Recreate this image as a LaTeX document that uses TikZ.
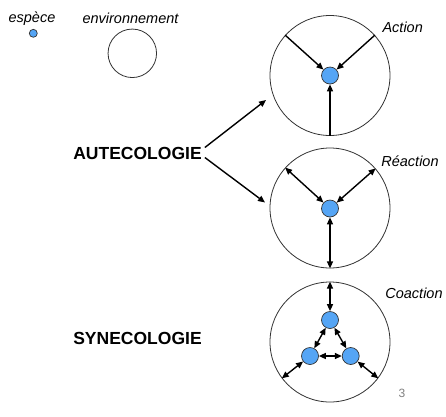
\documentclass[tikz,border=0pt]{standalone}
\usepackage{fontspec}
\setmainfont{Liberation Sans}
\usetikzlibrary{arrows.meta}
\definecolor{spfill}{RGB}{85,165,245}
\definecolor{ringcol}{RGB}{50,50,50}
\begin{document}
\begin{tikzpicture}[x=1pt,y=-1pt,
  env/.style={circle,draw=ringcol,line width=0.8pt,inner sep=0pt,minimum size=120pt},
  sp/.style={circle,draw=ringcol,fill=spfill,line width=0.7pt,inner sep=0pt,minimum size=17pt},
  lab/.style={font=\itshape\fontsize{14.5}{16}\selectfont,inner sep=0pt},
  big/.style={font=\bfseries\fontsize{17.5}{20}\selectfont,inner sep=0pt},
  one/.style={line width=1.4pt,-{Triangle[length=7pt,width=6pt]}},
  two/.style={line width=1.4pt,{Triangle[length=7pt,width=6pt]}-{Triangle[length=7pt,width=6pt]}}]
\useasboundingbox (0,0) rectangle (446,416);
% legend
\node[lab] (lsp) at (32,18.5) {espèce};
\node[sp,minimum size=8pt] (dot) at (33.3,33.3) {};
\node[lab] (lenv) at (130.5,18.5) {environnement};
\node[circle,draw=ringcol,line width=0.8pt,inner sep=0pt,minimum size=48.5pt] (envl) at (132.3,53.3) {};
% main labels
\node[big] (aut) at (137.5,153.5) {AUTECOLOGIE};
\node[big] (syn) at (137.5,338.5) {SYNECOLOGIE};
% Action
\node[env] (e1) at (330,75.5) {};
\node[sp] (s1) at (330,75.5) {};
\node[lab] (l1) at (402.7,27) {Action};
\draw[one] (e1.138) -- (s1);
\draw[one] (e1.42) -- (s1);
\draw[one] (e1.270) -- (s1);
% Reaction
\node[env] (e2) at (330,208) {};
\node[sp] (s2) at (330,208.5) {};
\node[lab] (l2) at (410,161) {Réaction};
\draw[two] (e2.138) -- (s2);
\draw[two] (e2.41) -- (s2);
\draw[two] (e2.270) -- (s2);
% Coaction
\node[env] (e3) at (330,342) {};
\node[sp] (c1) at (330,320) {};
\node[sp] (c2) at (310,356) {};
\node[sp] (c3) at (350.7,356) {};
\node[lab] (l3) at (414,293) {Coaction};
\draw[two] (e3.90) -- (c1);
\draw[two] (e3.217) -- (c2);
\draw[two] (e3.323) -- (c3);
\draw[two] (c1) -- (c2);
\draw[two] (c1) -- (c3);
\draw[two] (c2) -- (c3);
% arrows from AUTECOLOGIE
\coordinate (t1) at (266,100);
\coordinate (t2) at (265,202.5);
\draw[one] ([xshift=3pt,yshift=6pt]aut.east) -- (t1);
\draw[one] ([xshift=3pt,yshift=-4pt]aut.east) -- (t2);
% page number
\node[font=\fontsize{12}{14}\selectfont,text=gray,inner sep=0pt] (pg) at (402,393.5) {3};
\end{tikzpicture}
\end{document}
